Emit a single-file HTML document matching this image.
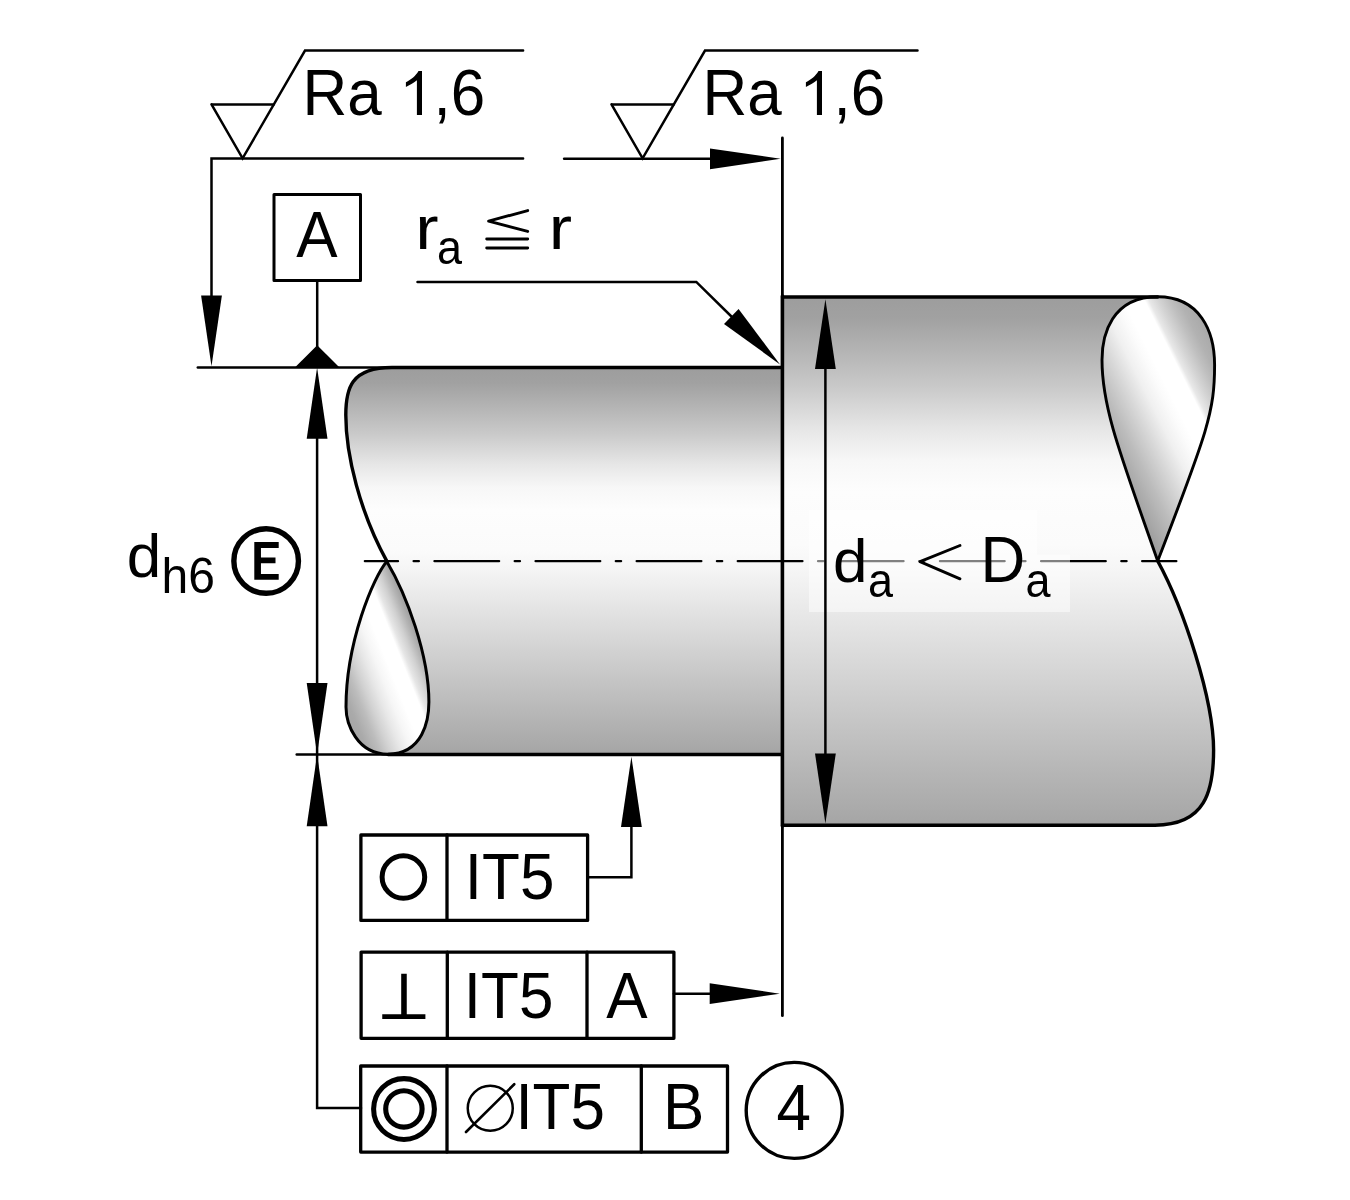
<!DOCTYPE html>
<html><head><meta charset="utf-8"><title>Shaft shoulder tolerances</title>
<style>
html,body{margin:0;padding:0;background:#fff;}
svg{display:block;will-change:transform;}
text{font-family:"Liberation Sans",sans-serif;fill:#000;}
path{stroke-linecap:round;}
</style></head><body>
<svg width="1350" height="1200" viewBox="0 0 1350 1200">
<rect width="1350" height="1200" fill="#fff"/>
<defs>
<linearGradient id="gS" gradientUnits="userSpaceOnUse" x1="0" y1="367.5" x2="0" y2="754.5">
  <stop offset="0" stop-color="#9d9d9d"/>
  <stop offset="0.04" stop-color="#a1a1a1"/>
  <stop offset="0.17" stop-color="#c9c9c9"/>
  <stop offset="0.25" stop-color="#e6e6e6"/>
  <stop offset="0.31" stop-color="#f7f7f7"/>
  <stop offset="0.37" stop-color="#fdfdfd"/>
  <stop offset="0.47" stop-color="#fbfbfb"/>
  <stop offset="0.52" stop-color="#f5f5f5"/>
  <stop offset="1" stop-color="#a5a5a5"/>
</linearGradient>
<linearGradient id="gB" gradientUnits="userSpaceOnUse" x1="0" y1="297" x2="0" y2="825">
  <stop offset="0" stop-color="#9d9d9d"/>
  <stop offset="0.04" stop-color="#a1a1a1"/>
  <stop offset="0.17" stop-color="#c9c9c9"/>
  <stop offset="0.25" stop-color="#e6e6e6"/>
  <stop offset="0.31" stop-color="#f7f7f7"/>
  <stop offset="0.37" stop-color="#fdfdfd"/>
  <stop offset="0.47" stop-color="#fbfbfb"/>
  <stop offset="0.52" stop-color="#f5f5f5"/>
  <stop offset="1" stop-color="#a5a5a5"/>
</linearGradient>
<linearGradient id="tS" gradientUnits="userSpaceOnUse" x1="336.5" y1="680.6" x2="438.6" y2="639.75">
  <stop offset="0" stop-color="#a8a8a8"/>
  <stop offset="0.029" stop-color="#aaa"/>
  <stop offset="0.127" stop-color="#bcbcbc"/>
  <stop offset="0.21" stop-color="#d2d2d2"/>
  <stop offset="0.31" stop-color="#e8e8e8"/>
  <stop offset="0.394" stop-color="#f6f6f6"/>
  <stop offset="0.49" stop-color="#fff"/>
  <stop offset="0.618" stop-color="#fff"/>
  <stop offset="0.66" stop-color="#e6e6e6"/>
  <stop offset="0.727" stop-color="#d0d0d0"/>
  <stop offset="0.786" stop-color="#b6b6b6"/>
  <stop offset="0.827" stop-color="#a6a6a6"/>
  <stop offset="1" stop-color="#999"/>
</linearGradient>
<linearGradient id="tB" gradientUnits="userSpaceOnUse" x1="1104.36" y1="456.82" x2="1238.46" y2="389.77">
  <stop offset="0" stop-color="#9c9c9c"/>
  <stop offset="0.04" stop-color="#a0a0a0"/>
  <stop offset="0.2" stop-color="#bdbdbd"/>
  <stop offset="0.33" stop-color="#d8d8d8"/>
  <stop offset="0.44" stop-color="#f0f0f0"/>
  <stop offset="0.53" stop-color="#fbfbfb"/>
  <stop offset="0.58" stop-color="#fff"/>
  <stop offset="0.707" stop-color="#fff"/>
  <stop offset="0.733" stop-color="#e8e8e8"/>
  <stop offset="0.79" stop-color="#d4d4d4"/>
  <stop offset="0.86" stop-color="#bfbfbf"/>
  <stop offset="0.913" stop-color="#b2b2b2"/>
  <stop offset="1" stop-color="#a8a8a8"/>
</linearGradient>
</defs>
<path d="M782,367.5 H392 C350.5,367.5 345.8,388.9 345.8,415 C345.8,455.2 360.1,512.5 386.8,561.1 C406.7,594.8 428.9,655.1 428.9,702 C428.9,720.1 423.1,753.7 388,754.2 H782 Z" fill="url(#gS)"/>
<path d="M386.8,561.4 C406.7,594.8 428.9,655.1 428.9,702 C428.9,720.1 423.1,753.7 388,754.2 C357,754.2 346,723.8 346,707 C346,642.6 373.5,576.7 386.8,561.4 Z" fill="url(#tS)" stroke="#000" stroke-width="3.0" stroke-linejoin="round"/>
<path d="M782,367.5 H392 C350.5,367.5 345.8,388.9 345.8,415 C345.8,455.2 360.1,512.5 386.8,561.1" fill="none" stroke="#000" stroke-width="3.4"/>
<path d="M388,754.5 H782" fill="none" stroke="#000" stroke-width="3.4"/>
<path d="M782.5,297 H1157.7 C1111.5,296.8 1102,335.1 1102,360 C1102,407.8 1120.2,453.8 1157.7,561 C1183.6,608.3 1213.6,699.3 1213.6,750 C1213.6,791 1205.4,825.2 1155,825.2 H782.5 Z" fill="url(#gB)"/>
<path d="M1157.7,296.8 C1199.9,296.8 1214.6,331.2 1214.6,365 C1214.6,411 1207.8,431.1 1157.7,561 M1157.7,296.8 C1111.5,296.8 1102,335.1 1102,360 C1102,407.8 1120.2,453.8 1157.7,561" fill="url(#tB)" stroke="#000" stroke-width="2.9" stroke-linejoin="round"/>
<path d="M782.5,297 H1157.7" fill="none" stroke="#000" stroke-width="3.4"/>
<path d="M1157.7,561 C1183.6,608.3 1213.6,699.3 1213.6,750 C1213.6,791 1205.4,825.2 1155,825.2 H782.5" fill="none" stroke="#000" stroke-width="3.4"/>
<path d="M782.4,296 V826" stroke="#000" stroke-width="3.6"/>
<path d="M364.9,561.1 H1176.3" stroke="#000" stroke-width="2.4" stroke-dasharray="64.6 15.65 5.2 15.65" stroke-dashoffset="31.5" stroke-linecap="round"/>
<path d="M809,510 H1037 V554.4 H1070 V612 H809 Z" fill="#fff" fill-opacity="0.5"/>
<path d="M825.4,330 V790" stroke="#000" stroke-width="2.5"/>
<path d="M825.40,299.30 L835.80,368.90 L815.00,368.90 Z" fill="#000"/>
<path d="M825.40,823.50 L815.00,753.50 L835.80,753.50 Z" fill="#000"/>
<path d="M212.3,104.4 H273.7" stroke="#000" stroke-width="2.5" fill="none"/><path d="M211.5,104.4 L242.6,158.3 L305.0,50.6 H523.1" stroke="#000" stroke-width="2.5" fill="none" stroke-linejoin="miter"/>
<path d="M612.3,104.4 H673.7" stroke="#000" stroke-width="2.5" fill="none"/><path d="M611.5,104.4 L642.6,158.3 L705.0,50.6 H917.5" stroke="#000" stroke-width="2.5" fill="none" stroke-linejoin="miter"/>
<text x="0" y="0" transform="translate(302.50 115.20) scale(1.000 1.035)" font-size="62.00" font-weight="normal" >Ra</text>
<text x="0" y="0" transform="translate(433.46 115.20) scale(1.000 1.035)" font-size="62.00" font-weight="normal" >,6</text>
<path transform="translate(0 0)" d="M416.9,114.9 V80.3 C413.5,83 409.5,85.3 405.9,86.9 V82.2 C411,79.8 416,75.5 418.5,71 H422 V114.9 Z" fill="#000"/>
<text x="0" y="0" transform="translate(702.50 115.20) scale(1.000 1.035)" font-size="62.00" font-weight="normal" >Ra</text>
<text x="0" y="0" transform="translate(833.46 115.20) scale(1.000 1.035)" font-size="62.00" font-weight="normal" >,6</text>
<path transform="translate(400 0)" d="M416.9,114.9 V80.3 C413.5,83 409.5,85.3 405.9,86.9 V82.2 C411,79.8 416,75.5 418.5,71 H422 V114.9 Z" fill="#000"/>
<path d="M211.5,330 V158.6 H523.1" stroke="#000" stroke-width="2.5" fill="none"/>
<path d="M211.50,366.20 L201.10,295.50 L221.90,295.50 Z" fill="#000"/>
<path d="M564.1,158.8 H712" stroke="#000" stroke-width="2.5" fill="none"/>
<path d="M780.60,158.80 L710.00,169.20 L710.00,148.40 Z" fill="#000"/>
<path d="M782.4,137.9 V1015.7" stroke="#000" stroke-width="2.8" fill="none"/>
<rect x="274.0" y="194.4" width="86.5" height="86.1" fill="none" stroke="#000" stroke-width="3.0" stroke-linejoin="round"/>
<text x="0" y="0" transform="translate(296.20 257.00) scale(1.000 1.035)" font-size="62.00" font-weight="normal" >A</text>
<path d="M317.2,280.5 V350" stroke="#000" stroke-width="2.5"/>
<path d="M317.2,345.2 L294.4,368 H340 Z" fill="#000"/>
<path d="M197.8,367.5 H392" stroke="#000" stroke-width="2.5"/>
<path d="M296.7,754.5 H392" stroke="#000" stroke-width="2.5"/>
<text x="0" y="0" transform="translate(415.37 249.30) scale(1.130 0.975)" font-size="62.00" font-weight="normal" >r</text>
<text x="0" y="0" transform="translate(436.89 264.30) scale(0.937 1.000)" font-size="48.00" font-weight="normal" >a</text>
<path d="M527.7,210.6 L488.6,221.1 L527.7,231.4" stroke="#000" stroke-width="2.9" fill="none" stroke-linejoin="round" stroke-linecap="butt"/>
<path d="M486.7,239 H527.7 M486.7,248 H527.7" stroke="#000" stroke-width="2.9" fill="none" stroke-linecap="butt"/>
<text x="0" y="0" transform="translate(548.67 249.30) scale(1.130 0.975)" font-size="62.00" font-weight="normal" >r</text>
<path d="M417.5,281.9 H696.3 L735,320" stroke="#000" stroke-width="2.5" fill="none"/>
<path d="M780.00,364.40 L724.01,323.91 L738.59,309.09 Z" fill="#000"/>
<path d="M317.1,400 V1108 H361" stroke="#000" stroke-width="2.5" fill="none"/>
<path d="M317.10,367.60 L327.50,438.80 L306.70,438.80 Z" fill="#000"/>
<path d="M317.10,754.30 L306.70,683.00 L327.50,683.00 Z" fill="#000"/>
<path d="M317.10,754.70 L327.50,826.30 L306.70,826.30 Z" fill="#000"/>
<text x="0" y="0" transform="translate(126.70 577.40) scale(1.000 0.980)" font-size="62.00" font-weight="normal" >d</text>
<text x="0" y="0" transform="translate(161.50 592.70) scale(1.000 1.035)" font-size="48.00" font-weight="normal" >h6</text>
<circle cx="266.15" cy="561" r="32.3" fill="none" stroke="#000" stroke-width="5.4"/>
<path d="M254.3,542 H278.7 V548 H260.95 V557.5 H275.5 V563.2 H260.95 V574 H278.7 V579.7 H254.3 Z" fill="#000"/>
<text x="0" y="0" transform="translate(833.00 581.60) scale(1.000 0.980)" font-size="62.00" font-weight="normal" >d</text>
<text x="0" y="0" transform="translate(868.09 597.40) scale(0.937 1.000)" font-size="48.00" font-weight="normal" >a</text>
<path d="M960,545.5 L920,561.6 L960,578.8" stroke="#000" stroke-width="2.9" fill="none" stroke-linejoin="round" stroke-linecap="butt"/>
<text x="0" y="0" transform="translate(980.50 581.60) scale(1.000 1.035)" font-size="62.00" font-weight="normal" >D</text>
<text x="0" y="0" transform="translate(1025.39 597.40) scale(0.937 1.000)" font-size="48.00" font-weight="normal" >a</text>
<rect x="360.9" y="835" width="226.7" height="85.4" fill="none" stroke="#000" stroke-width="3.3" stroke-linejoin="round"/>
<path d="M447,835 V920.4" stroke="#000" stroke-width="3.3"/>
<circle cx="403.4" cy="877" r="21.3" fill="none" stroke="#000" stroke-width="5.0"/>
<text x="0" y="0" transform="translate(464.80 898.70) scale(1.000 1.035)" font-size="62.00" font-weight="normal" >IT5</text>
<path d="M587.6,877.3 H631.4 V820" stroke="#000" stroke-width="2.5" fill="none"/>
<path d="M631.40,756.80 L641.80,826.90 L621.00,826.90 Z" fill="#000"/>
<rect x="361.1" y="952.1" width="312.8" height="86.2" fill="none" stroke="#000" stroke-width="3.3" stroke-linejoin="round"/>
<path d="M447.3,952.1 V1038.3 M587,952.1 V1038.3" stroke="#000" stroke-width="3.3"/>
<path d="M382.25,1014.25 H425.4 V1018.9 H382.25 Z M401.2,973.7 H406.75 V1015 H401.2 Z" fill="#000"/>
<text x="0" y="0" transform="translate(463.80 1017.90) scale(1.000 1.035)" font-size="62.00" font-weight="normal" >IT5</text>
<text x="0" y="0" transform="translate(606.30 1017.90) scale(1.000 1.035)" font-size="62.00" font-weight="normal" >A</text>
<path d="M673.9,993.7 H712" stroke="#000" stroke-width="2.5" fill="none"/>
<path d="M779.80,993.70 L709.70,1004.10 L709.70,983.30 Z" fill="#000"/>
<rect x="360.7" y="1066" width="366.8" height="86.1" fill="none" stroke="#000" stroke-width="3.3" stroke-linejoin="round"/>
<path d="M447,1066 V1152.1 M641.3,1066 V1152.1" stroke="#000" stroke-width="3.3"/>
<circle cx="404" cy="1109" r="30.4" fill="none" stroke="#000" stroke-width="5.05"/>
<circle cx="403.9" cy="1108.9" r="18.2" fill="none" stroke="#000" stroke-width="5.1"/>
<circle cx="490.25" cy="1108.25" r="22.5" fill="none" stroke="#000" stroke-width="2.5"/>
<path d="M466,1132 L514.25,1084.25" stroke="#000" stroke-width="2.6" stroke-linecap="butt"/>
<text x="0" y="0" transform="translate(515.40 1128.80) scale(1.000 1.035)" font-size="62.00" font-weight="normal" >IT5</text>
<text x="0" y="0" transform="translate(662.90 1128.80) scale(1.000 1.035)" font-size="62.00" font-weight="normal" >B</text>
<circle cx="794.2" cy="1110.4" r="48" fill="none" stroke="#000" stroke-width="3.4"/>
<text x="0" y="0" transform="translate(776.50 1130.00) scale(1.000 1.035)" font-size="62.00" font-weight="normal" >4</text>
</svg>
</body></html>
